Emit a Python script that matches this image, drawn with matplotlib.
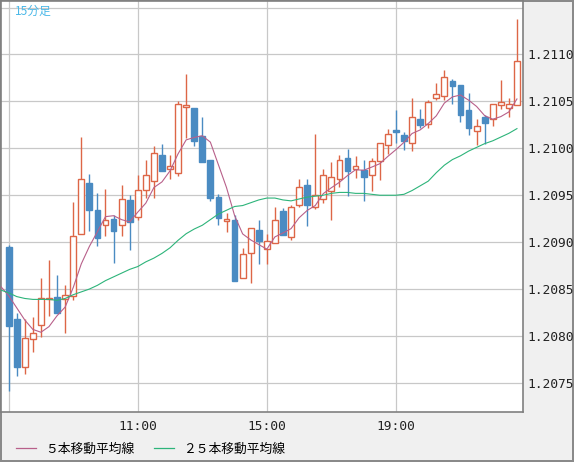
import numpy as np
import pandas as pd
import matplotlib
matplotlib.use('Agg')
import matplotlib.pyplot as plt
from matplotlib.lines import Line2D

# 15分足 OHLC (7:00 〜 22:45)
opens = [1.20895, 1.20818, 1.20767, 1.20797, 1.20812, 1.20839, 1.20842, 1.20839,
         1.20843, 1.20909, 1.20963, 1.20934, 1.20918, 1.20925, 1.20918, 1.20945,
         1.20927, 1.20956, 1.20965, 1.20993, 1.20978, 1.20974, 1.21044, 1.21043,
         1.21013, 1.20988, 1.20948, 1.20923, 1.20924, 1.20862, 1.20888, 1.20913,
         1.20893, 1.20899, 1.20933, 1.20906, 1.20940, 1.20961, 1.20937, 1.20946,
         1.20955, 1.20967, 1.20990, 1.20978, 1.20977, 1.20972, 1.20986, 1.21004,
         1.21019, 1.21014, 1.21006, 1.21031, 1.21026, 1.21054, 1.21056, 1.21072,
         1.21067, 1.21041, 1.21018, 1.21033, 1.21031, 1.21046, 1.21043, 1.21046]
highs = [1.20897, 1.20824, 1.20818, 1.20820, 1.20862, 1.20881, 1.20865, 1.20854,
         1.20943, 1.21012, 1.20973, 1.20952, 1.20957, 1.20929, 1.20961, 1.20950,
         1.20972, 1.20988, 1.21002, 1.21005, 1.20993, 1.21050, 1.21079, 1.21043,
         1.21033, 1.20988, 1.20951, 1.20931, 1.20929, 1.20894, 1.20915, 1.20924,
         1.20909, 1.20937, 1.20936, 1.20940, 1.20967, 1.20967, 1.21015, 1.20978,
         1.20985, 1.20993, 1.20999, 1.20992, 1.20988, 1.20990, 1.21006, 1.21021,
         1.21041, 1.21017, 1.21054, 1.21042, 1.21052, 1.21070, 1.21084, 1.21074,
         1.21067, 1.21059, 1.21031, 1.21036, 1.21047, 1.21073, 1.21054, 1.21138]
lows = [1.20741, 1.20757, 1.20759, 1.20783, 1.20799, 1.20821, 1.20825, 1.20803,
        1.20838, 1.20909, 1.20912, 1.20896, 1.20907, 1.20878, 1.20907, 1.20892,
        1.20924, 1.20947, 1.20947, 1.20976, 1.20967, 1.20971, 1.21011, 1.21002,
        1.20985, 1.20944, 1.20918, 1.20911, 1.20859, 1.20862, 1.20857, 1.20877,
        1.20877, 1.20899, 1.20908, 1.20902, 1.20937, 1.20917, 1.20935, 1.20942,
        1.20924, 1.20959, 1.20949, 1.20968, 1.20944, 1.20955, 1.20966, 1.20994,
        1.21006, 1.20998, 1.20997, 1.21022, 1.21022, 1.21052, 1.21052, 1.21047,
        1.21028, 1.21014, 1.21004, 1.21005, 1.21024, 1.21042, 1.21033, 1.21046]
closes = [1.20811, 1.20767, 1.20798, 1.20803, 1.20841, 1.20841, 1.20825, 1.20844,
          1.20907, 1.20967, 1.20934, 1.20904, 1.20924, 1.20912, 1.20946, 1.20922,
          1.20956, 1.20972, 1.20995, 1.20976, 1.20981, 1.21047, 1.21046, 1.21008,
          1.20985, 1.20947, 1.20926, 1.20925, 1.20859, 1.20887, 1.20915, 1.20901,
          1.20901, 1.20924, 1.20908, 1.20938, 1.20959, 1.20940, 1.20950, 1.20972,
          1.20969, 1.20988, 1.20976, 1.20981, 1.20969, 1.20986, 1.21006, 1.21015,
          1.21017, 1.21008, 1.21033, 1.21025, 1.21049, 1.21058, 1.21076, 1.21066,
          1.21035, 1.21022, 1.21024, 1.21027, 1.21047, 1.21049, 1.21047, 1.21093]

# 5本移動平均線の先頭部分（表示範囲より前のデータを含む）: index -1..3
ma5_lead = [1.20853, 1.20843, 1.20830, 1.20817, 1.20807]

# 25本移動平均線: index -1..63
ma25 = [1.20849, 1.20846, 1.20842, 1.20840, 1.20839, 1.20839, 1.20839, 1.20838,
        1.20840, 1.20844, 1.20847, 1.20850, 1.20854, 1.20859, 1.20863, 1.20867,
        1.20871, 1.20874, 1.20879, 1.20883, 1.20888, 1.20894, 1.20902, 1.20909,
        1.20914, 1.20918, 1.20924, 1.20930, 1.20934, 1.20938, 1.20939, 1.20942,
        1.20945, 1.20947, 1.20947, 1.20945, 1.20944, 1.20946, 1.20948, 1.20949,
        1.20950, 1.20952, 1.20953, 1.20953, 1.20952, 1.20952, 1.20951, 1.20950,
        1.20950, 1.20950, 1.20951, 1.20955, 1.20960, 1.20965, 1.20974, 1.20982,
        1.20988, 1.20992, 1.20997, 1.21001, 1.21005, 1.21008, 1.21012, 1.21016,
        1.21021]

xtick_pos = [0, 16, 32, 48]
xtick_labels = ['', '11:00', '15:00', '19:00']
ytick_vals = [1.2075, 1.2080, 1.2085, 1.2090, 1.2095, 1.2100, 1.2105, 1.2110, 1.2115]

up_col = '#dd6647'
down_col = '#4a8bc2'
ma5_col = '#b8608a'
ma25_col = '#2db47a'

W, H = 574, 462
fig = plt.figure(figsize=(W / 100, H / 100), dpi=100)
fig.patch.set_facecolor('#f0f0f0')
fig.patch.set_edgecolor('#8a8a8a')
fig.patch.set_linewidth(1.5)
ax = fig.add_axes([1 / W, 50 / H, 522 / W, 411 / H])
ax.set_facecolor('white')

o = np.array(opens)
c = np.array(closes)
hi = np.array(highs)
lo = np.array(lows)
x = np.arange(len(o))
up = c >= o

# ヒゲ
ax.vlines(x[up], lo[up], hi[up], color=up_col, lw=1.0, zorder=3)
ax.vlines(x[~up], lo[~up], hi[~up], color=down_col, lw=1.0, zorder=3)

# 実体
bottom = np.minimum(o, c)
height = np.abs(c - o)
ax.bar(x[up], height[up], bottom=bottom[up], width=0.72, facecolor='white',
       edgecolor=up_col, linewidth=1.0, zorder=4)
ax.bar(x[~up], height[~up], bottom=bottom[~up], width=0.72, facecolor=down_col,
       edgecolor=down_col, linewidth=1.0, zorder=4)

# 移動平均線
ma5_calc = pd.Series(closes).rolling(5).mean().to_numpy()[4:]
ma5 = np.concatenate([ma5_lead, ma5_calc])
ax.plot(np.arange(-1, len(o)), ma5, color=ma5_col, lw=0.8, zorder=5)
ax.plot(np.arange(-1, len(o)), ma25, color=ma25_col, lw=0.8, zorder=5)

ax.set_xlim(-0.95, 63.75)
ax.set_ylim(1.20719, 1.21157)

ax.set_xticks(xtick_pos)
ax.set_xticklabels(xtick_labels)
ax.set_yticks(ytick_vals)
ax.set_yticklabels([f'{v:.4f}' if v < 1.2112 else '' for v in ytick_vals])
ax.yaxis.tick_right()
ax.tick_params(axis='both', length=0, labelsize=9.3, colors='#222222')
ax.tick_params(axis='x', pad=6)
ax.tick_params(axis='y', pad=3)
for lab in ax.get_xticklabels() + ax.get_yticklabels():
    lab.set_family('DejaVu Sans Mono')
ax.grid(True, color='#c8c8c8', lw=0.9, zorder=0)
ax.set_axisbelow(True)
for s in ax.spines.values():
    s.set_color('#808080')
    s.set_linewidth(1.2)

ax.text(14 / 522, 1 - 10 / 411, '15分足', transform=ax.transAxes, color='#4ab8e8',
        fontsize=8.5, va='center', ha='left', family=['Noto Sans CJK JP', 'DejaVu Sans'])

handles = [Line2D([], [], color=ma5_col, lw=0.9), Line2D([], [], color=ma25_col, lw=0.9)]
fig.legend(handles, ['５本移動平均線', '２５本移動平均線'], loc='center left',
           bbox_to_anchor=(16 / W, 1 - 449 / H), ncol=2, frameon=False,
           borderpad=0, borderaxespad=0, handlelength=1.6, handletextpad=0.7,
           columnspacing=1.5,
           prop={'family': ['Noto Sans CJK JP', 'DejaVu Sans'], 'size': 9.2})

fig.savefig('out.png', dpi=100, facecolor=fig.get_facecolor(), edgecolor=fig.get_edgecolor())
